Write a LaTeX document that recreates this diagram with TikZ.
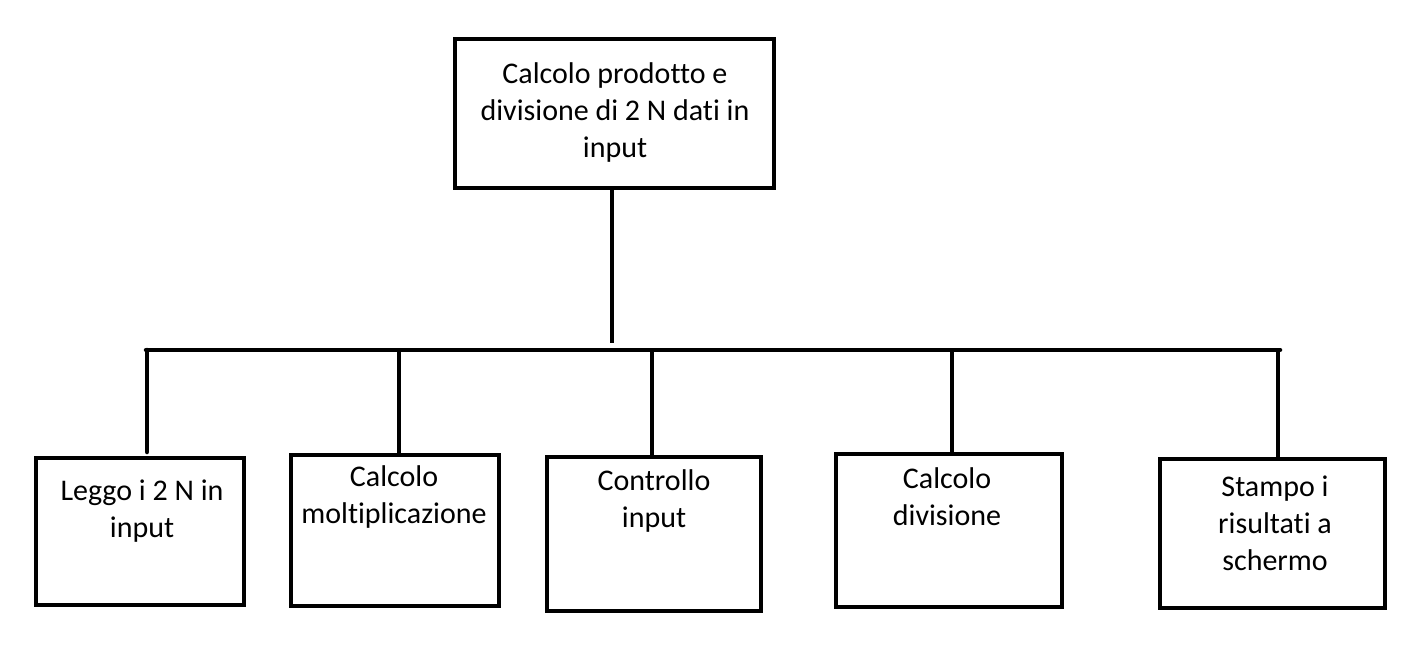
\documentclass[tikz,border=0pt]{standalone}
\usepackage{fontspec}
\setmainfont[Ligatures=NoCommon]{Carlito}
\begin{document}
\begin{tikzpicture}[x=1pt,y=-1pt,
  boxst/.style={draw=black,line width=4.5pt,fill=none},
  lnk/.style={draw=black,line width=4.5pt},
  txt/.style={font=\fontsize{30}{37}\selectfont,align=center,inner sep=0pt,text=black}]
\useasboundingbox[fill=white] (0,0) rectangle (1426,650);
% boxes
\draw[boxst] (455,39) rectangle (774,188);
\draw[boxst] (36,458) rectangle (244,605);
\draw[boxst] (291,455) rectangle (499,606);
\draw[boxst] (547,457) rectangle (761,611);
\draw[boxst] (836,454) rectangle (1062,607);
\draw[boxst] (1160,459) rectangle (1385,608);
% connector end points
\coordinate (top) at (612,188);
\coordinate (topend) at (612,343);
\coordinate (busL) at (146,350);
\coordinate (busR) at (1280,350);
\coordinate (b1) at (147,350); \coordinate (b1e) at (147,452);
\coordinate (b2) at (399,350); \coordinate (b2e) at (399,455);
\coordinate (b3) at (652,348); \coordinate (b3e) at (652,457);
\coordinate (b4) at (952,350); \coordinate (b4e) at (952,454);
\coordinate (b5) at (1278,350); \coordinate (b5e) at (1278,459);
% connectors
\draw[lnk] (top) -- (topend);
\draw[lnk,line cap=round] (busL) -- (busR);
\draw[lnk,line cap=round] (b1) -- (b1e);
\draw[lnk] (b2) -- (b2e);
\draw[lnk] (b3) -- (b3e);
\draw[lnk] (b4) -- (b4e);
\draw[lnk] (b5) -- (b5e);
% texts
\node[txt] (t0) at (615,113) {Calcolo prodotto e\\divisione di 2 N dati in\\input};
\node[txt] (t1) at (142,511) {Leggo i 2 N in\\input};
\node[txt] (t2) at (394,497) {Calcolo\\moltiplicazione};
\node[txt] (t3) at (654,501) {Controllo\\input};
\node[txt] (t4) at (947,497) {Calcolo\\divisione};
\node[txt] (t5) at (1275,523) {Stampo i\\risultati a\\schermo};
\end{tikzpicture}
\end{document}
